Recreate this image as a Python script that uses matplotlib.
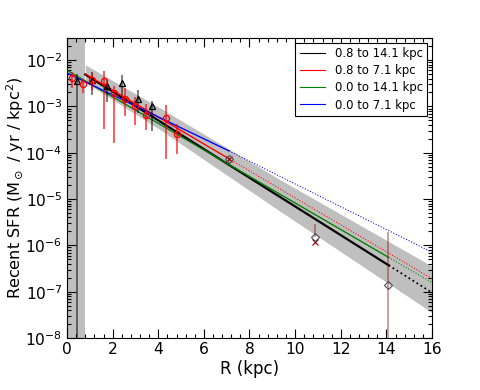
import numpy as np
import matplotlib
matplotlib.use("Agg")
import matplotlib.pyplot as plt
from matplotlib.ticker import AutoMinorLocator, LogLocator, MultipleLocator

# black triangles (log10 SFR, with lower/upper bound of error bar)
tri_r = [0.42, 1.08, 1.74, 2.42, 3.10, 3.71]
tri_y = [-2.45, -2.43, -2.57, -2.50, -2.83, -3.00]
tri_lo = [-9.0, -2.75, -2.90, -2.75, -3.15, -3.54]
tri_hi = [-2.30, -2.25, -2.40, -2.32, -2.65, -2.89]

# red circles
circ_r = [0.23, 0.69, 1.11, 1.64, 2.07, 2.55, 3.00, 3.46, 4.34, 4.81]
circ_y = [-2.39, -2.52, -2.43, -2.45, -2.72, -2.85, -3.00, -3.19, -3.24, -3.59]
circ_lo = [-2.60, -2.70, -2.65, -3.48, -3.80, -3.20, -3.40, -3.50, -4.13, -4.02]
circ_hi = [-2.25, -2.40, -2.30, -2.24, -2.55, -2.60, -2.80, -2.95, -2.97, -3.37]

# outer points (diamonds) and crosses
dia_r = [7.12, 10.85, 14.09]
dia_y = [-4.13, -5.81, -6.85]
dia_lo = [-4.13, -5.81, -9.0]
dia_hi = [-4.13, -5.54, -5.71]
cross_r = [7.12, 10.85]
cross_y = [-4.13, -5.92]

# fits: start, end of fit range, end of plot
fits = {
    "0.8 to 14.1 kpc": ([0.8, 14.1, 16.0], [-2.31, -6.43, -7.02], "black", 2.0),
    "0.8 to 7.1 kpc": ([0.8, 7.1, 16.0], [-2.30, -4.13, -6.72], "red", 1.2),
    "0.0 to 14.1 kpc": ([0.0, 14.1, 16.0], [-2.22, -6.26, -6.80], "green", 1.2),
    "0.0 to 7.1 kpc": ([0.0, 7.1, 16.0], [-2.28, -3.96, -6.15], "blue", 1.2),
}

# uncertainty band around the 0.8-14.1 fit
band_r = [0.8, 4.1, 9.3, 16.0]
band_hi = [-2.10, -3.04, -4.57, -6.45]
band_lo = [-2.48, -3.51, -5.25, -7.45]

plt.rcParams['font.family'] = 'DejaVu Sans'
plt.rcParams['font.size'] = 14

fig = plt.figure(figsize=(6.0, 4.875), dpi=80)
ax = fig.add_axes([67/480, 52/390, 365/480, 300/390])

p = lambda v: 10.0 ** np.array(v)

ax.axvspan(0, 0.8, color='0.75', lw=0, zorder=0)
ax.fill_between(band_r, p(band_lo), p(band_hi), color='0.75', lw=0, zorder=0)

handles = []
for lab, (rr, yy, c, lw) in fits.items():
    ax.plot(rr[:2], p(yy[:2]), color=c, lw=lw, zorder=3)
    ax.plot(rr[1:], p(yy[1:]), color=c, lw=lw * 0.8, ls=':', zorder=3)
    h, = ax.plot([], [], color=c, lw=1.0, label=lab)
    handles.append(h)

ty = p(tri_y)
ax.errorbar(tri_r, ty, yerr=[ty - p(tri_lo), p(tri_hi) - ty], fmt='none',
            ecolor='black', alpha=0.6, elinewidth=1.5, zorder=4)
ax.plot(tri_r, ty, ls='none', marker='^', mfc='none', mec='black', ms=6, mew=1.2, zorder=5)

cy = p(circ_y)
ax.errorbar(circ_r, cy, yerr=[cy - p(circ_lo), p(circ_hi) - cy], fmt='none',
            ecolor='red', alpha=0.75, elinewidth=1.5, zorder=4)
ax.plot(circ_r, cy, ls='none', marker='o', mfc='none', mec='red', ms=5.5, mew=1.2, zorder=5)

dy = p(dia_y)
ax.errorbar(dia_r, dy, yerr=[dy - p(dia_lo), p(dia_hi) - dy], fmt='none',
            ecolor='darkred', alpha=0.45, elinewidth=1.5, zorder=4)
ax.plot(cross_r, p(cross_y), ls='none', marker='x', color='darkred', ms=5, mew=1.0, zorder=5)
ax.plot(dia_r, dy, ls='none', marker='D', mfc='none', mec='0.3', ms=5, mew=1.0, zorder=5)

ax.set_yscale('log')
ax.set_xlim(0, 16)
ax.set_ylim(1e-8, 3e-2)
ax.xaxis.set_major_locator(MultipleLocator(2))
ax.xaxis.set_minor_locator(AutoMinorLocator(5))
ax.yaxis.set_major_locator(LogLocator(base=10, numticks=20))
ax.yaxis.set_minor_locator(LogLocator(base=10, subs=np.arange(2, 10), numticks=20))
ax.tick_params(which='both', direction='in', top=True, right=True)
ax.tick_params(which='major', length=8, width=1, labelsize=14, pad=4)
ax.tick_params(which='minor', length=4, width=1)
for s in ax.spines.values():
    s.set_linewidth(1.0)

ax.set_xlabel('R (kpc)', fontsize=15, labelpad=2)
ax.set_ylabel(r'Recent SFR (M$_\odot$ / yr / kpc$^2$)', fontsize=14.5, labelpad=-1)

leg = ax.legend(handles=handles, loc='upper right', fontsize=10.5, fancybox=False,
                framealpha=1, edgecolor='black', borderaxespad=0.4, handlelength=2.2,
                labelspacing=0.35)
leg.get_frame().set_linewidth(1.0)

fig.savefig('out.png', dpi=80, facecolor='white')
